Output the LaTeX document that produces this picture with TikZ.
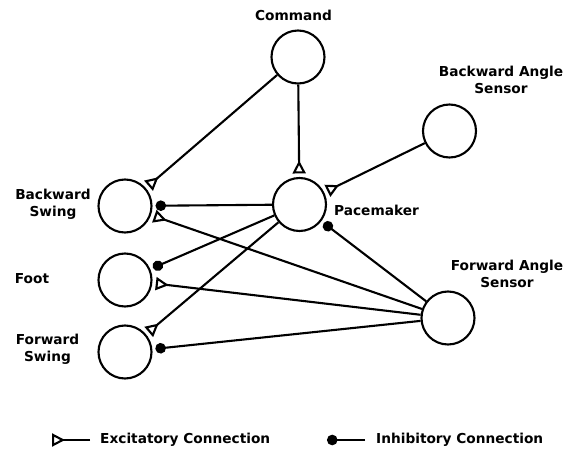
\documentclass[tikz,border=0pt]{standalone}
\usepackage{fontspec}
\setmainfont{DejaVu Sans}
\usetikzlibrary{arrows.meta}
\begin{document}
\begin{tikzpicture}[x=1pt,y=-1pt,
  neuron/.style={circle,draw,line width=2.1pt,minimum size=53pt,inner sep=0pt},
  lbl/.style={font=\bfseries\fontsize{13.7}{17}\selectfont,align=center,inner sep=0pt},
  conn/.style={line width=2.1pt},
  exctip/.style={conn,-{Triangle[open,reversed,length=13pt,width=13pt,fill=white]}},
  inhtip/.style={conn,-{Circle[length=10.5pt]}},
  excite/.style={exctip,shorten >=3.5pt},
  inhib/.style={inhtip,shorten >=3pt},
]
\useasboundingbox (0,0) rectangle (574,450);

% neurons
\node[neuron] (cmd) at (298,57) {};
\node[neuron] (bas) at (449.5,131) {};
\node[neuron] (pm)  at (299.5,204.5) {};
\node[neuron] (bs)  at (125,206) {};
\node[neuron] (ft)  at (125,280) {};
\node[neuron] (fs)  at (125,352) {};
\node[neuron] (fas) at (448,318) {};

% labels
\node[lbl] (tcmd) at (293.5,15) {Command};
\node[lbl] (tbas) at (501,80) {Backward Angle\\Sensor};
\node[lbl] (tpm)  at (376.5,210) {Pacemaker};
\node[lbl] (tbs)  at (53,204) {Backward\\Swing};
\node[lbl] (tft)  at (32,279) {Foot};
\node[lbl] (tfs)  at (47.5,349) {Forward\\Swing};
\node[lbl] (tfas) at (507,274) {Forward Angle\\Sensor};

% connections
\draw[excite] (cmd) -- (bs);
\draw[excite] (cmd) -- (pm);
\draw[excite] (bas) -- (pm);
\draw[inhib]  (pm) -- (bs);
\draw[inhib]  (pm) -- (ft);
\draw[excite] (pm) -- (fs);
\draw[inhib]  (fas) -- (pm);
\draw[excite] (fas) -- (bs);
\draw[excite] (fas) -- (ft);
\draw[inhib]  (fas) -- (fs);

% legend
\coordinate (ea) at (90,440);
\coordinate (eb) at (52,440);
\coordinate (ia) at (365,440);
\coordinate (ib) at (327,440);
\draw[exctip] (ea) -- (eb);
\draw[inhtip] (ia) -- (ib);
\node[lbl,anchor=west] (lexc) at (100,440) {Excitatory Connection};
\node[lbl,anchor=west] (linh) at (376,440) {Inhibitory Connection};
\end{tikzpicture}
\end{document}
